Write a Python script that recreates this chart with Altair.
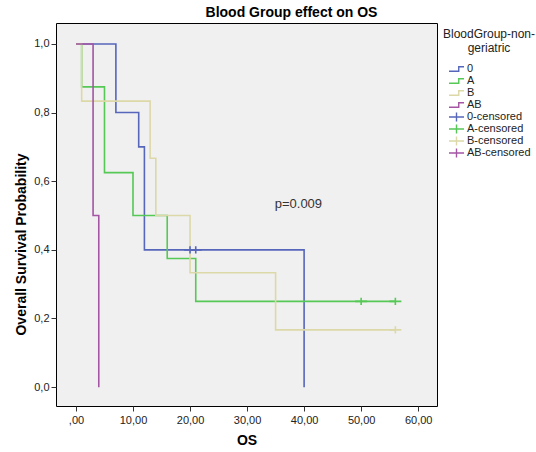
import altair as alt
import pandas as pd

# Kaplan-Meier step values per blood group (time, survival probability)
groups = ["0", "A", "B", "AB"]
times_0 = [0, 7, 11, 12, 40]
surv_0 = [1.0, 0.8, 0.7, 0.4, 0.0]
times_A = [0, 1, 5, 10, 16, 21, 56]
surv_A = [1.0, 0.875, 0.625, 0.5, 0.375, 0.25, 0.25]
times_B = [0, 1, 13, 14, 20, 35, 56]
surv_B = [1.0, 0.8333, 0.6667, 0.5, 0.3333, 0.1667, 0.1667]
times_AB = [0, 3, 4]
surv_AB = [1.0, 0.5, 0.0]

# Censored observations
cens_group = ["0", "0", "A", "A", "B"]
cens_time = [20, 21, 50, 56, 56]
cens_surv = [0.4, 0.4, 0.25, 0.25, 0.1667]

p_text = "p=0.009"
p_time = 39
p_surv = 0.535

series_order = groups + [g + "-censored" for g in groups]
colors = ["#5566bb", "#55c855", "#dcd8a8", "#a455a4"]
color_range = colors + colors

step_path = "M-1,0.3H0.3V-0.3H1"
cross_path = "M-1,0H1M0,-0.6V0.6"
shape_range = [step_path] * 4 + [cross_path] * 4

rows = []
for g, ts, ss in [("0", times_0, surv_0), ("A", times_A, surv_A),
                  ("B", times_B, surv_B), ("AB", times_AB, surv_AB)]:
    for i, (t, s) in enumerate(zip(ts, ss)):
        rows.append({"series": g, "time": t, "surv": s, "ord": i})
lines_df = pd.DataFrame(rows)

cens_df = pd.DataFrame({
    "series": [g + "-censored" for g in cens_group],
    "time": cens_time,
    "surv": cens_surv,
})

x_scale = alt.Scale(domain=[-3.5, 63.3], nice=False, zero=False)
y_scale = alt.Scale(domain=[-0.055, 1.061], nice=False, zero=False)
color_scale = alt.Scale(domain=series_order, range=color_range)
shape_scale = alt.Scale(domain=series_order, range=shape_range)

legend = alt.Legend(
    title=["BloodGroup-non-", "geriatric"],
    orient="none",
    legendX=387,
    legendY=6,
    titleFontSize=12,
    titleFontWeight="normal",
    titleAlign="center",
    titleAnchor="middle",
    titleLimit=200,
    labelFontSize=11,
    symbolSize=225,
    symbolStrokeWidth=1.4,
    symbolFillColor="transparent",
    clipHeight=12,
    rowPadding=0,
    titlePadding=8,
    labelOffset=2,
)

x_axis = alt.Axis(
    title="OS",
    values=[0, 10, 20, 30, 40, 50, 60],
    labelExpr="datum.value == 0 ? ',00' : replace(format(datum.value, '.2f'), '.', ',')",
    grid=False, domain=False, tickSize=5, labelPadding=3,
    titleFontSize=14, titleFontWeight="bold", titlePadding=8,
)
y_axis = alt.Axis(
    title="Overall Survival Probability",
    values=[0, 0.2, 0.4, 0.6, 0.8, 1.0],
    labelExpr="replace(format(datum.value, '.1f'), '.', ',')",
    grid=False, domain=False, tickSize=5, labelPadding=2,
    titleFontSize=14, titleFontWeight="bold",
    titleX=-35, titleY=221, titleAlign="center", titleBaseline="middle",
)

lines = alt.Chart(lines_df).mark_line(interpolate="step-after", strokeWidth=1.6).encode(
    x=alt.X("time:Q", scale=x_scale, axis=x_axis),
    y=alt.Y("surv:Q", scale=y_scale, axis=y_axis),
    color=alt.Color("series:N", scale=color_scale, legend=legend),
    order="ord:Q",
    detail="series:N",
)

cens = alt.Chart(cens_df).mark_point(filled=False, strokeWidth=1.6, size=144, opacity=1).encode(
    x=alt.X("time:Q", scale=x_scale),
    y=alt.Y("surv:Q", scale=y_scale),
    color=alt.Color("series:N", scale=color_scale, legend=legend),
    shape=alt.Shape("series:N", scale=shape_scale, legend=legend),
)

ptext = alt.Chart(pd.DataFrame({"t": [p_time], "s": [p_surv], "label": [p_text]})).mark_text(
    fontSize=13, color="#333333", font="Liberation Sans"
).encode(
    x=alt.X("t:Q", scale=x_scale),
    y=alt.Y("s:Q", scale=y_scale),
    text="label:N",
)

chart = alt.layer(lines, cens, ptext).properties(
    width=381,
    height=383,
    autosize=alt.AutoSizeParams(type="none"),
    padding={"left": 56, "top": 23, "right": 99, "bottom": 46},
    title=alt.TitleParams(
        "Blood Group effect on OS", fontSize=14, fontWeight="bold",
        anchor="middle", frame="group", dx=45, dy=15, offset=4,
        baseline="bottom", color="#000000",
    ),
).configure(
    font="Liberation Sans",
    background="white",
).configure_view(
    fill="#f0f0f0", stroke="#000000", strokeWidth=1,
).configure_axis(
    labelFontSize=11, labelColor="#222222", tickColor="#333333",
    titleColor="#000000",
).configure_legend(
    labelColor="#222222", titleColor="#222222",
)

chart.save("out.html", embed_options={"renderer": "svg", "actions": False})
